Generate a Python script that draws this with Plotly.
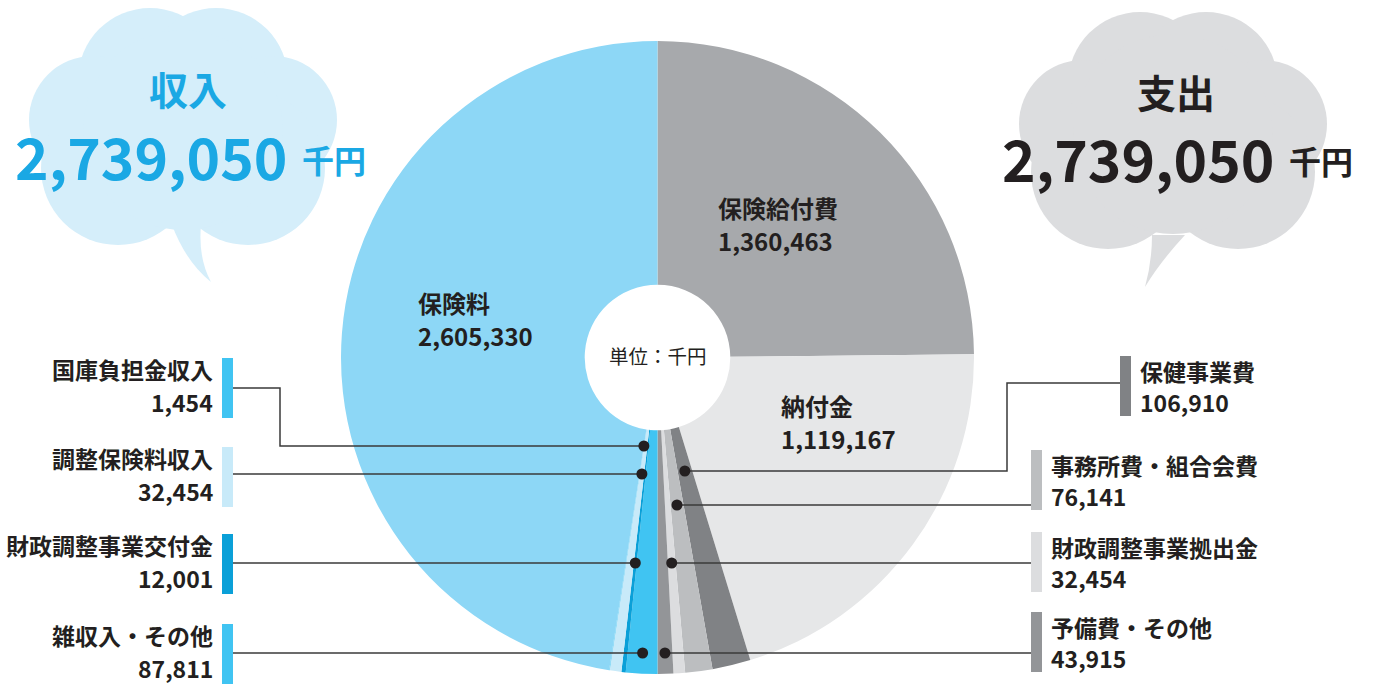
import math
import plotly.graph_objects as go

# ---------------- data ----------------
exp_labels = ["保険給付費", "納付金", "保健事業費", "事務所費・組合会費", "財政調整事業拠出金", "予備費・その他"]
exp_values = [1360463, 1119167, 106910, 76141, 32454, 43915]
exp_colors = ["#a7a9ac", "#e6e7e8", "#808285", "#bcbec0", "#dcdddf", "#939598"]

# income slices in clockwise order starting from the bottom
inc_labels = ["雑収入・その他", "財政調整事業交付金", "調整保険料収入", "国庫負担金収入", "保険料"]
inc_values = [87811, 12001, 32454, 1454, 2605330]
inc_colors = ["#40c4f2", "#0aa0d8", "#c8eaf9", "#40c4f2", "#8dd7f6"]

income_total_text = "2,739,050"
expense_total_text = "2,739,050"

# ---------------- geometry (pixels) ----------------
W, H = 1375, 689
CX, CY, R = 657.5, 357.5, 316.5
HOLE = 0.23

FONT = "Noto Sans CJK JP"
DARK = "#231f20"
BLUE = "#1aa8e4"
LINE = "#3a3a3a"

labels = exp_labels + inc_labels
values = exp_values + inc_values
colors = exp_colors + inc_colors
total = float(sum(values))

# mid angle (deg, clockwise from 12 o'clock) of every slice
mid_angle = {}
cum = 0.0
for lab, v in zip(labels, values):
    a0 = cum / total * 360.0
    cum += v
    a1 = cum / total * 360.0
    mid_angle[lab] = (a0 + a1) / 2.0


def dot_x(label, y):
    th = math.radians(mid_angle[label])
    t = (y - CY) / (-math.cos(th))
    return CX + t * math.sin(th)


fig = go.Figure()
fig.add_trace(go.Scatter(x=[0, W], y=[0, H], mode="markers", marker=dict(opacity=0),
                         hoverinfo="skip", showlegend=False))
fig.add_trace(go.Pie(
    labels=labels, values=values, sort=False, direction="clockwise", rotation=0,
    hole=HOLE, textinfo="none", showlegend=False,
    marker=dict(colors=colors, line=dict(width=0)),
    domain=dict(x=[(CX - R) / W, (CX + R) / W], y=[(H - CY - R) / H, (H - CY + R) / H]),
))

shapes = []
annotations = []


def circle(cx, cy, r, color, layer="below"):
    shapes.append(dict(type="circle", xref="x", yref="y", x0=cx - r, x1=cx + r, y0=cy - r, y1=cy + r,
                       fillcolor=color, line=dict(width=0), layer=layer))


def cloud(dx, dy, color, tail):
    for (cx, cy, r) in [(150, 80, 72), (216, 80, 72), (93, 120, 64), (273, 120, 64),
                        (118, 168, 77), (248, 168, 77), (183, 130, 100)]:
        circle(cx + dx, cy + dy, r, color)
    shapes.append(dict(type="path", xref="x", yref="y", path=tail, fillcolor=color,
                       line=dict(width=0), layer="below"))


cloud(0, 0, "#d5eefa", "M 172,225 Q 186,262 211,282 Q 198,258 201,225 Z")
cloud(990, 4, "#dcdddf", "M 1152,235 Q 1152,262 1145,287 Q 1160,262 1185,235 Z")


def text(x, y, s, size, color=DARK, xanchor="left", weight="bold"):
    annotations.append(dict(x=x, y=y, xref="x", yref="y", text=s, showarrow=False,
                            xanchor=xanchor, yanchor="middle",
                            font=dict(family=FONT, size=size, color=color, weight=weight)))


# cloud titles
text(188, 88, "収入", 39, BLUE, "center")
text(289, 155, income_total_text, 57, BLUE, "right")
text(300, 159, "千円", 32, BLUE, "left")
text(1176, 91, "支出", 39, DARK, "center")
text(1276, 157, expense_total_text, 57, DARK, "right")
text(1287, 160, "千円", 32, DARK, "left")

# centre text
text(657.5, 355, "単位：千円", 19.5, DARK, "center", "normal")


def fmt(v):
    return f"{v:,}"


val = dict(zip(labels, values))

LS_IN = 24   # labels inside the pie
LS = 23      # call-out labels

# labels inside large slices
for lab, x, y in [("保険給付費", 716, 207), ("保険料", 416, 302), ("納付金", 779, 405)]:
    text(x, y, lab, LS_IN)
    text(x, y + 33, fmt(val[lab]), LS_IN)

# left call-outs: label, bar top, line y at bar, dot y
left_calls = [("国庫負担金収入", 358, 388, 446), ("調整保険料収入", 447, 474, 474),
              ("財政調整事業交付金", 534, 563, 563), ("雑収入・その他", 624, 653, 653)]
for lab, top, ly, dy in left_calls:
    col = colors[labels.index(lab)]
    shapes.append(dict(type="rect", xref="x", yref="y", x0=222, x1=233, y0=top, y1=top + 60,
                       fillcolor=col, line=dict(width=0), layer="above"))
    text(215, top + 11, lab, LS, DARK, "right")
    text(215, top + 44, fmt(val[lab]), LS, DARK, "right")
    xd = dot_x(lab, dy)
    if ly == dy:
        path = f"M 233,{ly} L {xd},{dy}"
    else:
        path = f"M 233,{ly} L 280,{ly} L 280,{dy} L {xd},{dy}"
    shapes.append(dict(type="path", xref="x", yref="y", path=path, line=dict(color=LINE, width=1.5),
                       layer="above"))
    circle(xd, dy, 5.5, DARK, "above")

# right call-outs: label, bar x0, bar top, line y at bar, dot y
right_calls = [("保健事業費", 1120, 356, 383, 471), ("事務所費・組合会費", 1031, 450, 505, 505),
               ("財政調整事業拠出金", 1031, 532, 563, 563), ("予備費・その他", 1031, 612, 653, 653)]
for lab, bx, top, ly, dy in right_calls:
    col = colors[labels.index(lab)]
    shapes.append(dict(type="rect", xref="x", yref="y", x0=bx, x1=bx + 11, y0=top, y1=top + 60,
                       fillcolor=col, line=dict(width=0), layer="above"))
    text(bx + 18, top + 15, lab, LS, DARK, "left")
    text(bx + 18, top + 46, fmt(val[lab]), LS, DARK, "left")
    xd = dot_x(lab, dy)
    if ly == dy:
        path = f"M {bx},{ly} L {xd},{dy}"
    else:
        path = f"M {bx},{ly} L 1007,{ly} L 1007,{dy} L {xd},{dy}"
    shapes.append(dict(type="path", xref="x", yref="y", path=path, line=dict(color=LINE, width=1.5),
                       layer="above"))
    circle(xd, dy, 5.5, DARK, "above")

fig.update_layout(
    width=W, height=H, margin=dict(l=0, r=0, t=0, b=0, pad=0),
    paper_bgcolor="white", plot_bgcolor="rgba(0,0,0,0)",
    xaxis=dict(range=[0, W], visible=False, fixedrange=True, domain=[0, 1]),
    yaxis=dict(range=[H, 0], visible=False, fixedrange=True, domain=[0, 1]),
    shapes=shapes, annotations=annotations, showlegend=False,
)

fig.write_html("out.html", config={"displayModeBar": False},
               post_script="document.body.style.margin='0';")
